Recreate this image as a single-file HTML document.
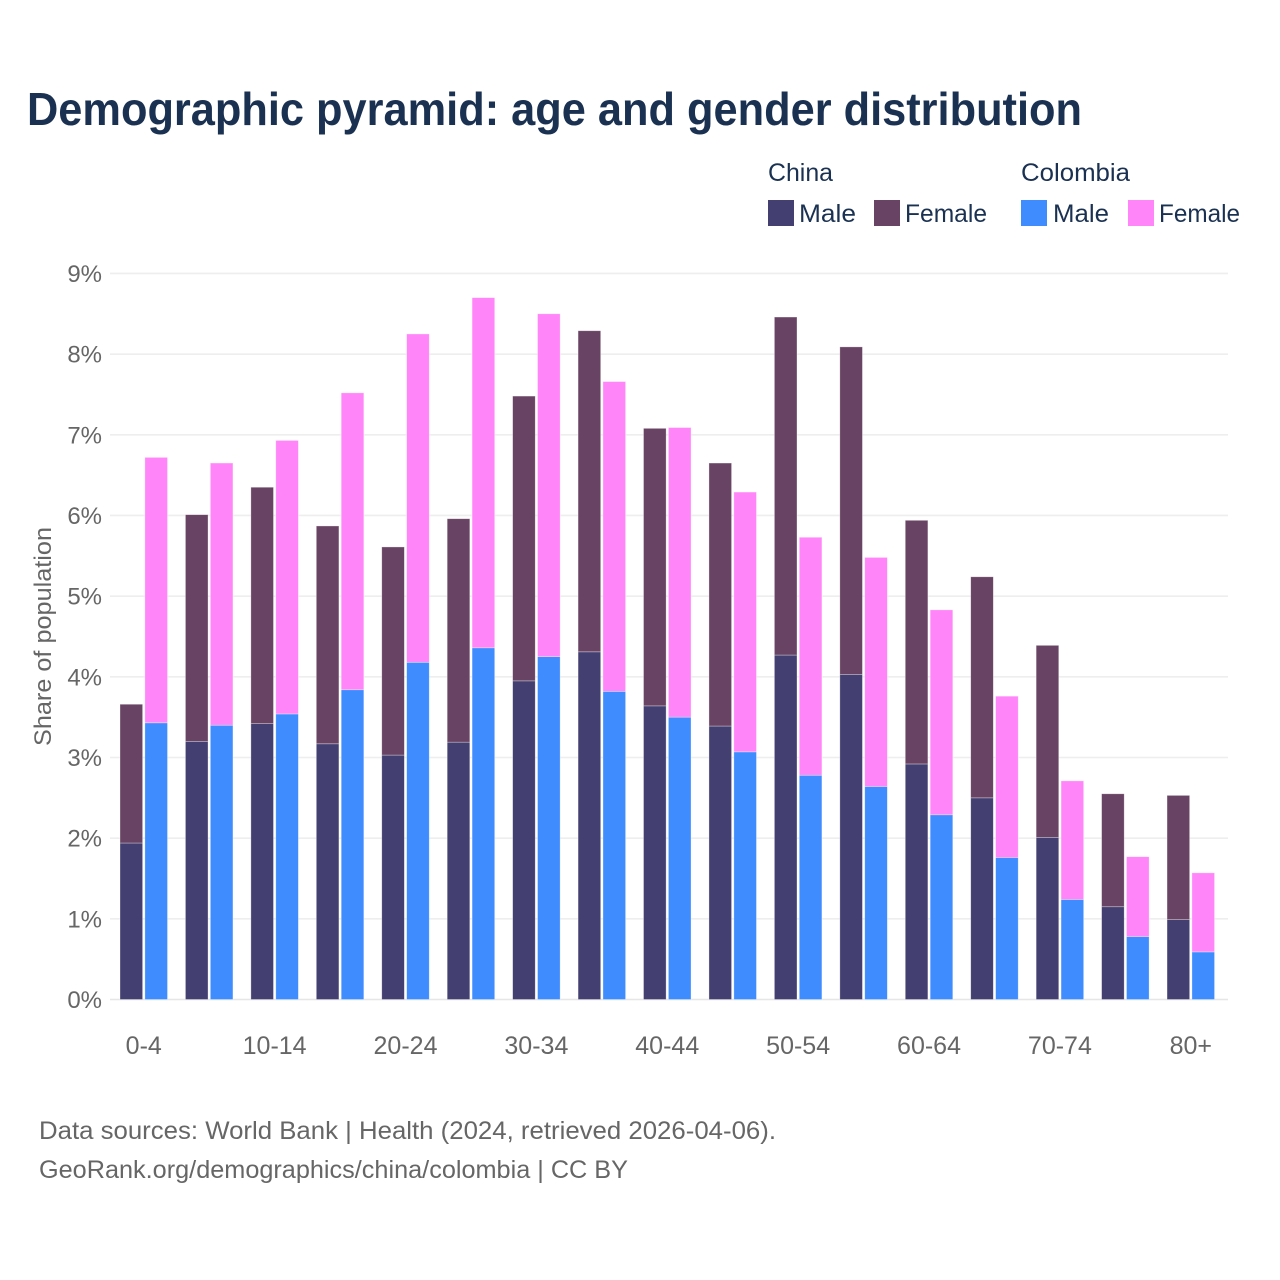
<!DOCTYPE html>
<html lang="en">
<head>
<meta charset="utf-8">
<title>Demographic pyramid</title>
<style>
html,body{margin:0;padding:0;background:#fff;}
svg{display:block;}
text{font-family:"Liberation Sans",sans-serif;}
</style>
</head>
<body>
<svg id="chart" xmlns="http://www.w3.org/2000/svg" width="1280" height="1280" viewBox="0 0 1280 1280">
  <rect x="0" y="0" width="1280" height="1280" fill="#ffffff"/>
  <text x="27" y="125" font-size="46" font-weight="700" fill="#1a3152" textLength="1055" lengthAdjust="spacingAndGlyphs">Demographic pyramid: age and gender distribution</text>

  <g font-size="25" fill="#1a3152">
    <text x="768" y="181" textLength="65" lengthAdjust="spacingAndGlyphs">China</text>
    <text x="1021" y="181" textLength="109" lengthAdjust="spacingAndGlyphs">Colombia</text>
    <rect x="768" y="200" width="26" height="26" fill="#434071"/>
    <text x="799" y="222" textLength="57" lengthAdjust="spacingAndGlyphs">Male</text>
    <rect x="874" y="200" width="26" height="26" fill="#684363"/>
    <text x="905" y="222" textLength="82" lengthAdjust="spacingAndGlyphs">Female</text>
    <rect x="1021" y="200" width="26" height="26" fill="#3f8cff"/>
    <text x="1053" y="222" textLength="56" lengthAdjust="spacingAndGlyphs">Male</text>
    <rect x="1128" y="200" width="26" height="26" fill="#ff85f9"/>
    <text x="1159" y="222" textLength="81" lengthAdjust="spacingAndGlyphs">Female</text>
  </g>

  <g id="grid"></g>
  <g id="bars"></g>
  <g id="yticks"></g>
  <g id="xticks"></g>

  <text transform="translate(51,636.5) rotate(-90)" text-anchor="middle" font-size="24" fill="#666666" textLength="219" lengthAdjust="spacingAndGlyphs">Share of population</text>

  <text x="39" y="1139" font-size="25" fill="#666666" textLength="737" lengthAdjust="spacingAndGlyphs">Data sources: World Bank | Health (2024, retrieved 2026-04-06).</text>
  <text x="39" y="1178" font-size="25" fill="#666666" textLength="589" lengthAdjust="spacingAndGlyphs">GeoRank.org/demographics/china/colombia | CC BY</text>
</svg>
<script>
const ageGroups = ["0-4","5-9","10-14","15-19","20-24","25-29","30-34","35-39","40-44","45-49","50-54","55-59","60-64","65-69","70-74","75-79","80+"];
const xTickLabels = ["0-4","10-14","20-24","30-34","40-44","50-54","60-64","70-74","80+"];
const yTickValues = [0,1,2,3,4,5,6,7,8,9];
const chinaMale = [1.94,3.20,3.42,3.17,3.03,3.19,3.95,4.31,3.64,3.39,4.27,4.03,2.92,2.50,2.01,1.15,0.99];
const chinaFemale = [1.72,2.81,2.93,2.70,2.58,2.77,3.53,3.98,3.44,3.26,4.19,4.06,3.02,2.74,2.38,1.40,1.54];
const colombiaMale = [3.43,3.40,3.54,3.84,4.18,4.36,4.25,3.82,3.50,3.07,2.78,2.64,2.29,1.76,1.24,0.78,0.59];
const colombiaFemale = [3.29,3.25,3.39,3.68,4.07,4.34,4.25,3.84,3.59,3.22,2.95,2.84,2.54,2.00,1.47,0.99,0.98];

const SVG_NS = "http://www.w3.org/2000/svg";
const plotLeft = 110, plotRight = 1228, y0 = 999.5, unit = 80.67;
const groupStart = 120, groupStep = 65.44, barW = 22.6, barGap = 2.3;
function yScale(v){ return y0 - v * unit; }
function groupX(i){ return groupStart + i * groupStep; }
function groupCenter(i){ return groupX(i) + barW + barGap / 2; }

const gridLayer = document.getElementById("grid");
const barLayer = document.getElementById("bars");
const yLayer = document.getElementById("yticks");
const xLayer = document.getElementById("xticks");

yTickValues.forEach(function(v){
  const line = document.createElementNS(SVG_NS, "line");
  
  
  line.setAttribute("x1", plotLeft);
  line.setAttribute("x2", plotRight);
  line.setAttribute("y1", yScale(v));
  line.setAttribute("y2", yScale(v));
  line.setAttribute("stroke", v === 0 ? "#e6e6e6" : "#eeeeee");
  line.setAttribute("stroke-width", "1.6");
  gridLayer.appendChild(line);

  const label = document.createElementNS(SVG_NS, "text");
  
  
  label.setAttribute("x", 102);
  label.setAttribute("y", yScale(v) + 8.5);
  label.setAttribute("text-anchor", "end");
  label.setAttribute("font-size", "24");
  label.setAttribute("fill", "#666666");
  label.textContent = v + "%";
  yLayer.appendChild(label);
});

function addBar(x, base, value, color, name){
  const rect = document.createElementNS(SVG_NS, "rect");
  
  
  rect.setAttribute("x", x);
  rect.setAttribute("y", yScale(base + value));
  rect.setAttribute("width", barW);
  rect.setAttribute("height", value * unit);
  rect.setAttribute("fill", color);
  rect.setAttribute("stroke", "#ffffff");
  rect.setAttribute("stroke-opacity", "0.45");
  rect.setAttribute("stroke-width", "0.7");
  barLayer.appendChild(rect);
}

ageGroups.forEach(function(age, i){
  const x1 = groupX(i);
  const x2 = x1 + barW + barGap;
  addBar(x1, 0, chinaMale[i], "#434071", "bar-china-male");
  addBar(x1, chinaMale[i], chinaFemale[i], "#684363", "bar-china-female");
  addBar(x2, 0, colombiaMale[i], "#3f8cff", "bar-colombia-male");
  addBar(x2, colombiaMale[i], colombiaFemale[i], "#ff85f9", "bar-colombia-female");

  if (xTickLabels.indexOf(age) !== -1) {
    const label = document.createElementNS(SVG_NS, "text");
    
    
    label.setAttribute("x", groupCenter(i));
    label.setAttribute("y", 1054);
    label.setAttribute("text-anchor", "middle");
    label.setAttribute("font-size", "25");
    label.setAttribute("fill", "#666666");
    label.textContent = age;
    xLayer.appendChild(label);
  }
});
</script>
</body>
</html>
